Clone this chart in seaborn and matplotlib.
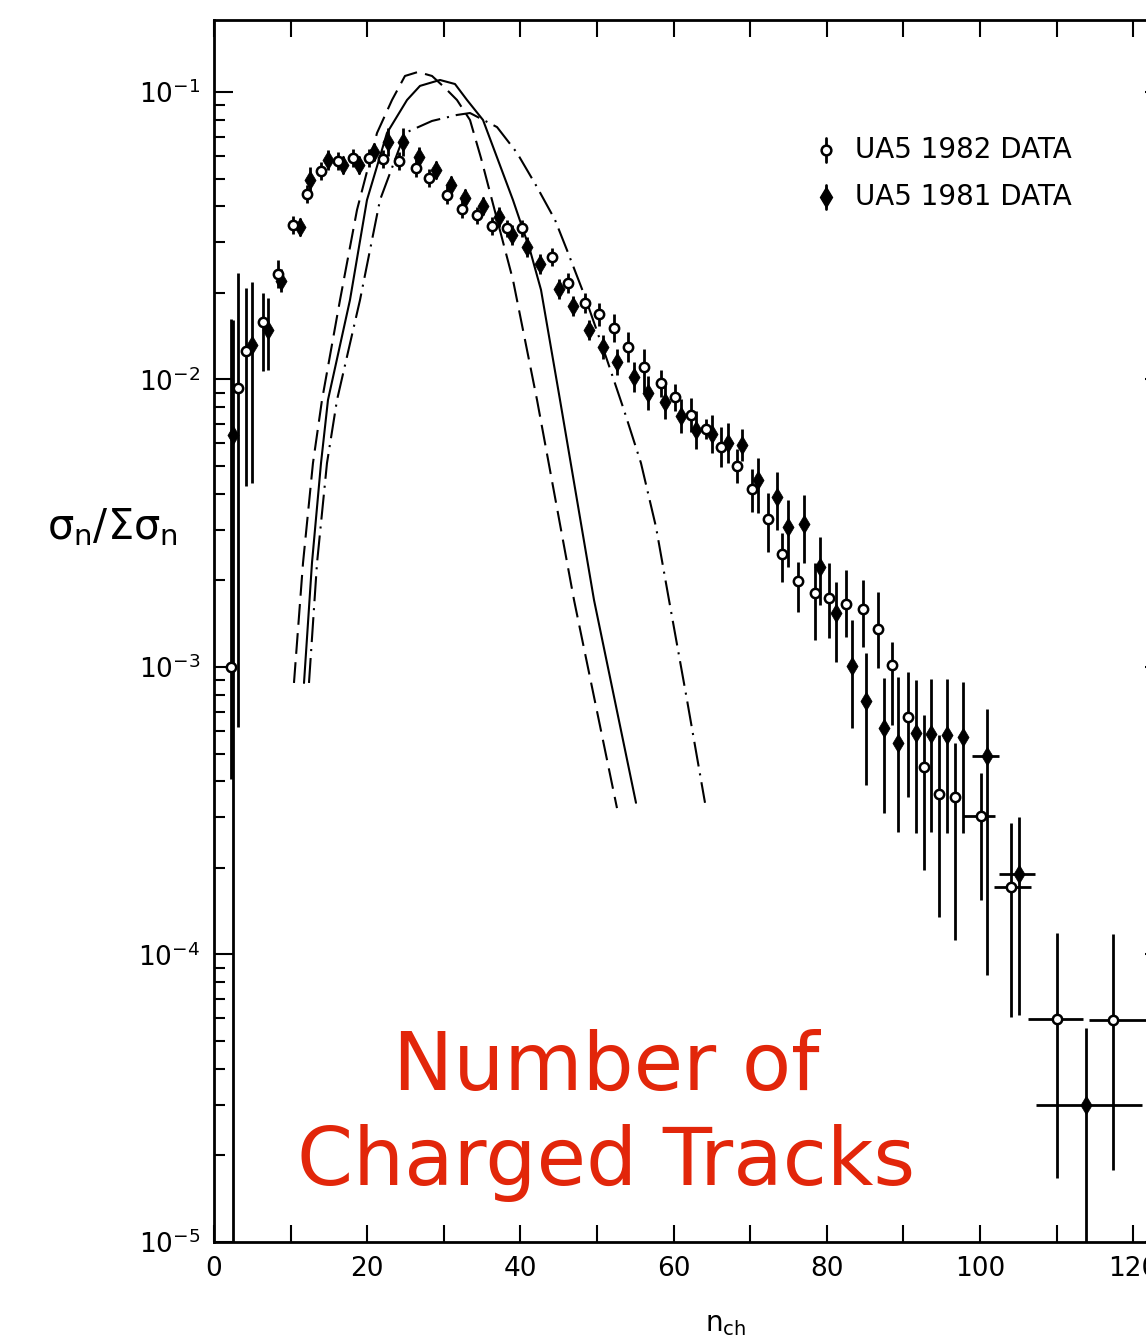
import numpy as np
import pandas as pd
import matplotlib
matplotlib.use("Agg")
import matplotlib.pyplot as plt
from matplotlib.ticker import MultipleLocator, FixedLocator, LogLocator
import seaborn as sns

# ---------------- data ----------------
# UA5 1982 data (open circles)
open_n = [2.2, 3.1, 4.2, 6.4, 8.4, 10.3, 12.1, 14.0, 16.2, 18.1, 20.2, 22.1, 24.2, 26.4, 28.1,
          30.4, 32.4, 34.3, 36.3, 38.3, 40.2, 44.1, 46.2, 48.4, 50.3, 52.2, 54.0, 56.1, 58.4, 60.2,
          62.3, 64.2, 66.2, 68.3, 70.2, 72.3, 74.2, 76.2, 78.5, 80.3, 82.5, 84.7, 86.7, 88.5, 90.6,
          92.7, 94.6, 96.7]
open_y = [0.0010, 0.00933, 0.01256, 0.01585, 0.02328, 0.03447, 0.04418, 0.0531, 0.0575, 0.0589,
          0.0589, 0.0585, 0.0575, 0.0544, 0.0502, 0.0438, 0.0392, 0.0373, 0.0342, 0.0336,
          0.0336, 0.02668, 0.02167, 0.01845, 0.01689, 0.0151, 0.01297, 0.01105, 0.00972, 0.00869,
          0.00752, 0.00673, 0.00582, 0.0050, 0.00416, 0.00327, 0.00247, 0.00199, 0.00181, 0.00174,
          0.00166, 0.00159, 0.00136, 0.00102, 0.00067, 0.000449, 0.000362, 0.000353]
# error bar extent in decades (up / down)
open_up = [1.21, 0.40, 0.22, 0.10, 0.05,
           0.03, 0.03, 0.03, 0.03, 0.03, 0.03, 0.03, 0.03, 0.03, 0.03, 0.03, 0.03, 0.03, 0.03, 0.03,
           0.03, 0.03, 0.035, 0.035, 0.04,
           0.05, 0.052, 0.063, 0.045, 0.045, 0.06, 0.035, 0.07, 0.06, 0.07,
           0.09, 0.073, 0.066, 0.104, 0.122, 0.118, 0.10, 0.129, 0.077, 0.157,
           0.181, 0.205, 0.188]
open_dn = [0.39, 1.18, 0.47, 0.17, 0.05,
           0.03, 0.03, 0.03, 0.03, 0.03, 0.03, 0.03, 0.03, 0.03, 0.03, 0.03, 0.03, 0.03, 0.03, 0.03,
           0.03, 0.03, 0.035, 0.035, 0.04,
           0.05, 0.052, 0.087, 0.05, 0.05, 0.06, 0.035, 0.07, 0.06, 0.08,
           0.115, 0.097, 0.108, 0.163, 0.139, 0.115, 0.132, 0.136, 0.209, 0.278,
           0.358, 0.428, 0.497]
# wide-bin 1982 points
open_wide_n = [100.1, 104.0, 110.0, 117.4]
open_wide_y = [0.000303, 0.000172, 0.0000597, 0.0000594]
open_wide_lo = [97.8, 101.8, 106.3, 114.2]
open_wide_hi = [102.0, 106.7, 113.4, 123.0]
open_wide_up = [0.15, 0.223, 0.299, 0.296]
open_wide_dn = [0.292, 0.452, 0.553, 0.522]

# UA5 1981 data (filled markers)
fill_n = [2.5, 5.0, 7.0, 8.7, 11.2, 12.5, 14.9, 16.8, 18.9, 20.9, 22.7, 24.7, 26.8, 29.0, 30.9,
          32.8, 35.1, 37.2, 38.9, 40.9, 42.6, 45.0, 46.9, 49.0, 50.8, 52.6, 54.8, 56.7, 58.9, 61.0,
          62.9, 65.0, 67.1, 68.9, 71.0, 73.5, 74.9, 77.0, 79.1, 81.2, 83.3, 85.1, 87.5, 89.3, 91.6,
          93.6, 95.7, 97.8]
fill_y = [0.00641, 0.01318, 0.01487, 0.02202, 0.0339, 0.0494, 0.058, 0.0557, 0.0557, 0.0618,
          0.067, 0.067, 0.0594, 0.0535, 0.0475, 0.0428, 0.0401, 0.0367, 0.0318, 0.0289,
          0.0252, 0.02064, 0.01802, 0.01487, 0.01297, 0.0115, 0.0102, 0.00898, 0.00835, 0.00746,
          0.00667, 0.00646, 0.00601, 0.00592, 0.00447, 0.0039, 0.00307, 0.00314, 0.00223, 0.00154,
          0.00101, 0.000762, 0.000614, 0.000544, 0.000589, 0.000587, 0.00058, 0.000571]
fill_up = [0.40, 0.22, 0.11, 0.04,
           0.03, 0.045, 0.035, 0.03, 0.03, 0.03, 0.05, 0.05, 0.035, 0.03, 0.03, 0.03, 0.03, 0.035, 0.035, 0.035,
           0.035, 0.035, 0.035, 0.035, 0.042, 0.045, 0.052, 0.059, 0.059, 0.059, 0.066, 0.066, 0.07, 0.056,
           0.077, 0.087, 0.094, 0.10, 0.104, 0.108, 0.16, 0.167, 0.174, 0.23, 0.184, 0.191, 0.195, 0.191]
fill_dn = [3.0, 0.48, 0.14, 0.04,
           0.03, 0.045, 0.035, 0.03, 0.03, 0.03, 0.05, 0.05, 0.035, 0.03, 0.03, 0.03, 0.03, 0.035, 0.035, 0.035,
           0.035, 0.035, 0.035, 0.035, 0.042, 0.045, 0.052, 0.059, 0.059, 0.059, 0.066, 0.066, 0.07, 0.056,
           0.115, 0.115, 0.139, 0.136, 0.132, 0.17, 0.216, 0.292, 0.296, 0.31, 0.348, 0.344, 0.341, 0.334]
fill_wide_n = [100.9, 105.1, 113.8]
fill_wide_y = [0.00049, 0.000191, 0.00003]
fill_wide_lo = [99.0, 102.5, 107.3]
fill_wide_hi = [102.5, 107.2, 121.1]
fill_wide_up = [0.163, 0.198, 0.268]
fill_wide_dn = [0.762, 0.49, 1.5]

# theory curves
dashed_n = [10.44, 11.62, 12.92, 14.10, 16.45, 18.67, 21.28, 23.24, 24.93, 26.63, 28.46, 30.16,
            31.72, 33.42, 34.86, 36.29, 39.03, 42.17, 47.00, 52.61]
dashed_y = [8.80e-4, 2.30e-3, 5.12e-3, 8.49e-3, 0.0189, 0.0389, 0.0720, 0.0938, 0.1137, 0.1174,
            0.1137, 0.1033, 0.0938, 0.0799, 0.0589, 0.0421, 0.0222, 8.49e-3, 1.71e-3, 3.23e-4]
solid_n = [11.75, 12.79, 13.97, 14.88, 17.75, 19.97, 22.58, 25.20, 26.89, 29.50, 31.46, 33.03,
           35.12, 39.03, 41.25, 42.69, 45.17, 49.61, 55.09]
solid_y = [8.80e-4, 2.30e-3, 5.12e-3, 8.49e-3, 0.0189, 0.0421, 0.0720, 0.0938, 0.105, 0.1101,
           0.1066, 0.0938, 0.0799, 0.0421, 0.0282, 0.0205, 8.49e-3, 1.71e-3, 3.37e-4]
dashdot_n = [12.40, 13.45, 14.75, 16.06, 19.06, 21.67, 24.93, 28.46, 31.72, 33.42, 36.95, 39.56,
             42.17, 44.52, 46.08, 48.43, 51.31, 53.52, 55.74, 57.70, 59.40, 61.75, 64.10]
dashdot_y = [8.80e-4, 2.30e-3, 5.12e-3, 8.49e-3, 0.0189, 0.0421, 0.0720, 0.0793, 0.0832, 0.0845,
             0.0755, 0.0614, 0.0467, 0.0359, 0.0282, 0.0194, 0.0117, 7.83e-3, 5.12e-3, 3.07e-3,
             1.71e-3, 7.68e-4, 3.37e-4]

x_ticks = [0, 20, 40, 60, 80, 100, 120]
legend_labels = ["UA5 1982 DATA", "UA5 1981 DATA"]
annotation = ["Number of", "Charged Tracks"]

# ---------------- styling ----------------
sns.set_style("ticks")
plt.rcParams['font.family'] = ['DejaVu Sans']
plt.rcParams['mathtext.fontset'] = 'custom'
plt.rcParams['mathtext.rm'] = 'DejaVu Sans'
plt.rcParams['mathtext.it'] = 'DejaVu Sans'
plt.rcParams['mathtext.bf'] = 'DejaVu Sans:bold'
plt.rcParams['mathtext.sf'] = 'DejaVu Sans'
plt.rcParams['lines.scale_dashes'] = False

W, H = 1146, 1343
PX_PER_UNIT = 7.66
fig = plt.figure(figsize=(W / 100, H / 100), dpi=100)
ax_w = 950
ax = fig.add_axes([214 / W, 101 / H, ax_w / W, 1222 / H])
ax.set_yscale('log')
ax.set_xlim(0, ax_w / PX_PER_UNIT)
ax.set_ylim(1e-5, 0.178)


def fx(px):
    return (px - 214) / ax_w


def fy(py):
    return (1242 - py) / 1222


# theory curves
curves = pd.concat([
    pd.DataFrame({'n': dashed_n, 'y': dashed_y, 'model': 'dashed'}),
    pd.DataFrame({'n': solid_n, 'y': solid_y, 'model': 'solid'}),
    pd.DataFrame({'n': dashdot_n, 'y': dashdot_y, 'model': 'dashdot'}),
])
styles = {'dashed': (0, (15, 6)), 'solid': '-', 'dashdot': (0, (18, 5, 1.5, 5))}
for m, sub in curves.groupby('model', sort=False):
    sns.lineplot(data=sub, x='n', y='y', ax=ax, color='black', lw=1.5,
                 sort=False, estimator=None, linestyle=styles[m], legend=False)


def bars(y, up, dn):
    y = np.asarray(y, float)
    up = np.asarray(up, float)
    dn = np.asarray(dn, float)
    return np.vstack([y * (1 - 10 ** (-dn)), y * (10 ** up - 1)])


ekw = dict(fmt='none', ecolor='black', elinewidth=2.0, capsize=0, zorder=3)
ax.errorbar(open_n, open_y, yerr=bars(open_y, open_up, open_dn), **ekw)
ax.errorbar(fill_n, fill_y, yerr=bars(fill_y, fill_up, fill_dn), **ekw)
ow = np.asarray(open_wide_n)
ax.errorbar(open_wide_n, open_wide_y,
            yerr=bars(open_wide_y, open_wide_up, open_wide_dn),
            xerr=np.vstack([ow - np.asarray(open_wide_lo), np.asarray(open_wide_hi) - ow]), **ekw)
fw = np.asarray(fill_wide_n)
ax.errorbar(fill_wide_n, fill_wide_y,
            yerr=bars(fill_wide_y, fill_wide_up, fill_wide_dn),
            xerr=np.vstack([fw - np.asarray(fill_wide_lo), np.asarray(fill_wide_hi) - fw]), **ekw)

sns.scatterplot(x=list(fill_n) + list(fill_wide_n), y=list(fill_y) + list(fill_wide_y), ax=ax,
                marker='d', s=90, color='black', edgecolor='black', linewidth=0.5, zorder=4)
sns.scatterplot(x=list(open_n) + list(open_wide_n), y=list(open_y) + list(open_wide_y), ax=ax,
                marker='o', s=45, facecolor='white', edgecolor='black', linewidth=1.8, zorder=5)

# legend drawn in axes coordinates
lx = fx(826)
for i, (lab, yy) in enumerate(zip(legend_labels, [fy(150), fy(197)])):
    ax.plot([lx, lx], [yy - 0.010, yy + 0.010], color='black', lw=2, transform=ax.transAxes)
    if i == 0:
        ax.plot([lx], [yy], marker='o', ms=7, mfc='white', mec='black', mew=1.8,
                transform=ax.transAxes)
    else:
        ax.plot([lx], [yy], marker='d', ms=10, color='black', transform=ax.transAxes)
    ax.text(fx(855), yy, lab, transform=ax.transAxes, fontsize=20,
            va='center', ha='left', color='black')

# annotation
ax.text(fx(606), fy(1090), annotation[0], transform=ax.transAxes,
        fontsize=58, color='#E2260A', ha='center', va='baseline')
ax.text(fx(606), fy(1185), annotation[1], transform=ax.transAxes,
        fontsize=58, color='#E2260A', ha='center', va='baseline')

# axes, ticks
for s in ax.spines.values():
    s.set_linewidth(2)
    s.set_color('black')
ax.xaxis.set_major_locator(FixedLocator(x_ticks))
ax.xaxis.set_minor_locator(MultipleLocator(10))
ax.yaxis.set_major_locator(LogLocator(base=10, numticks=10))
ax.yaxis.set_minor_locator(LogLocator(base=10, subs=np.arange(2, 10), numticks=20))
ax.tick_params(which='both', direction='in', top=True, right=True, colors='black')
ax.tick_params(axis='x', which='both', length=12, width=1.5, labelsize=19, pad=10)
ax.tick_params(axis='y', which='major', length=14, width=1.5, labelsize=19, pad=10)
ax.tick_params(axis='y', which='minor', length=8, width=1.5)

ax.set_xlabel(r'$n_{ch}$', fontsize=20, color='black', va='top')
ax.xaxis.set_label_coords(fx(725), fy(1310))
ax.set_ylabel(r'$\sigma_n/\Sigma\sigma_n$', fontsize=30, rotation=0, va='center', ha='center',
              color='black')
ax.yaxis.set_label_coords(fx(112), fy(527))

fig.savefig('out.png', dpi=100, facecolor='white')
